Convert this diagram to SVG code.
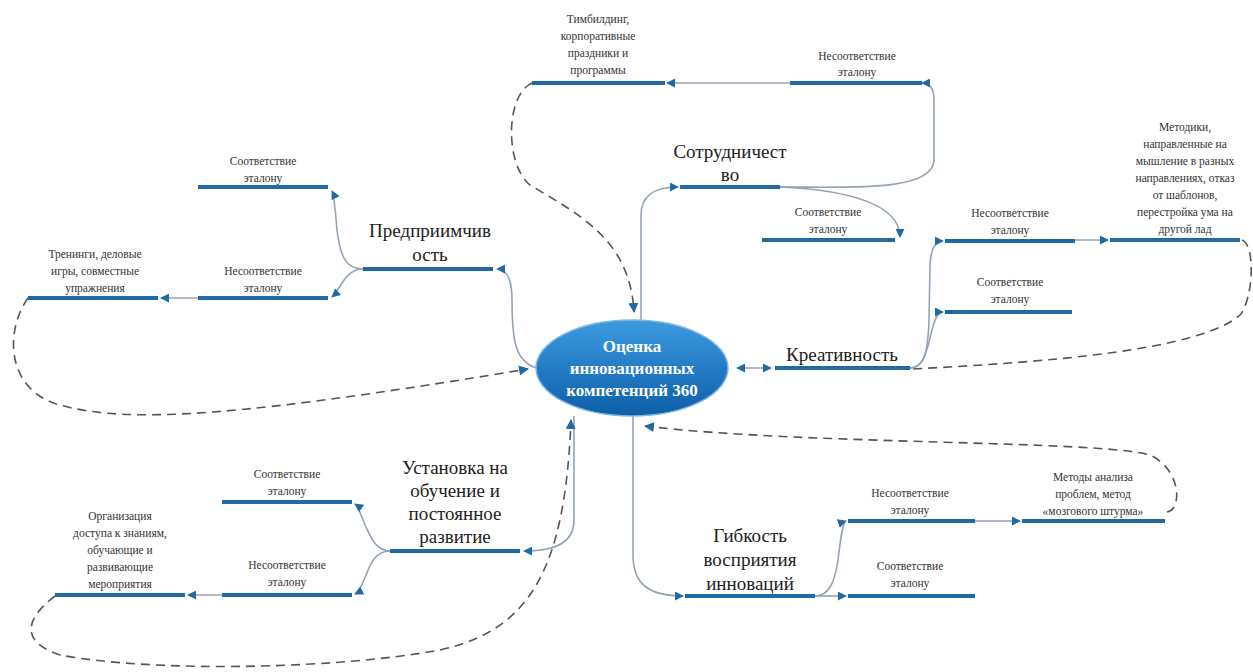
<svg xmlns="http://www.w3.org/2000/svg" width="1253" height="672" viewBox="0 0 1253 672">
<defs>
<linearGradient id="eg" x1="0" y1="0" x2="0" y2="1">
<stop offset="0" stop-color="#3b9be0"/>
<stop offset="1" stop-color="#0d5ea8"/>
</linearGradient>
<marker id="ah" viewBox="0 0 10 10" refX="9" refY="5" markerWidth="9" markerHeight="9" markerUnits="userSpaceOnUse" orient="auto-start-reverse">
<path d="M0,0 L10,5 L0,10 z" fill="#1f6aa5"/>
</marker>
<marker id="ahd" viewBox="0 0 10 10" refX="9" refY="5" markerWidth="10" markerHeight="10" markerUnits="userSpaceOnUse" orient="auto">
<path d="M0,0 L10,5 L0,10 z" fill="#1f6aa5"/>
</marker>
</defs>
<style>
.bar{stroke:#1f6aa5;stroke-width:4;fill:none}
.c{stroke:#93a3b5;stroke-width:1.6;fill:none}
.d{stroke:#555;stroke-width:1.6;fill:none;stroke-dasharray:9 6}
text{font-family:'Liberation Serif','DejaVu Serif',serif;text-anchor:middle}
.s{font-size:11.5px;fill:#333}
.b{font-size:19px;fill:#222}
.e{font-size:17px;font-weight:bold;fill:#fff}
</style>
<rect width="1253" height="672" fill="#fff"/>

<g id="connectors">
<path class="c" d="M641,320 L641,215 C641,195 655,187 678,187" marker-end="url(#ah)"/>
<path class="d" d="M532,83 C505,95 505,165 530,185 C580,215 630,240 634,312" marker-end="url(#ahd)"/>
<path class="c" d="M780,187 C850,187 933,192 934,160 L934,100 C934,88 930,83 922,83" marker-end="url(#ah)"/>
<path class="c" d="M790,83 L667,83" marker-end="url(#ah)"/>
<path class="c" d="M780,187 C850,190 900,205 900,237" marker-end="url(#ah)"/>
<path class="c" d="M537,368 C515,362 512,340 512,300 C512,280 508,269 497,269" marker-end="url(#ah)"/>
<path class="d" d="M28,298 C5,330 5,390 60,405 C130,425 250,415 528,369" marker-end="url(#ahd)"/>
<path class="c" d="M363,269 C345,269 340,255 337,230 C335,205 334,195 332,191" marker-end="url(#ah)"/>
<path class="c" d="M363,269 C345,269 340,290 332,297" marker-end="url(#ah)"/>
<path class="c" d="M198,298 L161,298" marker-end="url(#ah)"/>
<path class="c" d="M737,368 L771,368" marker-start="url(#ah)" marker-end="url(#ah)"/>
<path class="c" d="M910,368 C925,368 928,350 929,320 L930,265 C931,248 935,241 943,241" marker-end="url(#ah)"/>
<path class="c" d="M910,368 C925,368 928,345 932,330 C935,318 938,312 943,312" marker-end="url(#ah)"/>
<path class="c" d="M1075,240 L1108,240" marker-end="url(#ah)"/>
<path class="d" d="M1242,240 C1256,245 1253,300 1240,315 C1200,350 1050,362 912,369"/>
<path class="c" d="M574,416 L574,520 C574,540 560,551 524,551" marker-end="url(#ah)"/>
<path class="d" d="M55,596 C30,615 15,640 60,655 C150,672 330,670 440,650 C530,630 565,570 571,420" marker-end="url(#ahd)"/>
<path class="c" d="M390,551 C375,551 370,535 365,525 C360,512 358,506 355,504" marker-end="url(#ah)"/>
<path class="c" d="M390,551 C375,551 370,565 366,575 C362,585 359,592 355,594" marker-end="url(#ah)"/>
<path class="c" d="M222,595 L188,595" marker-end="url(#ah)"/>
<path class="c" d="M633,416 L633,555 C633,585 650,596 683,596" marker-end="url(#ah)"/>
<path class="d" d="M1167,512 C1182,510 1182,470 1150,455 C1100,440 800,445 645,426" marker-end="url(#ahd)"/>
<path class="c" d="M815,596 C830,596 835,580 838,560 C841,535 843,522 846,521" marker-end="url(#ah)"/>
<path class="c" d="M815,596 L846,596" marker-end="url(#ah)"/>
<path class="c" d="M975,521 L1020,521" marker-end="url(#ah)"/>
</g>

<g id="center">
<ellipse cx="632" cy="368" rx="96" ry="48" fill="url(#eg)" stroke="#7fb8e6" stroke-width="1.5"/>
<text class="e" x="632" y="352">Оценка</text>
<text class="e" x="632" y="374">инновационных</text>
<text class="e" x="632" y="396">компетенций 360</text>
</g>

<g id="sotr">
<line class="bar" x1="680" y1="187" x2="780" y2="187"/>
<text class="b" x="730" y="158">Сотрудничест</text>
<text class="b" x="730" y="181">во</text>
</g>
<g id="sotr-nesoot">
<line class="bar" x1="790" y1="83" x2="922" y2="83"/>
<text class="s" x="857" y="60">Несоответствие</text>
<text class="s" x="857" y="76">эталону</text>
</g>
<g id="timbuild">
<line class="bar" x1="532" y1="83" x2="665" y2="83"/>
<text class="s" x="598" y="23">Тимбилдинг,</text>
<text class="s" x="598" y="40">корпоративные</text>
<text class="s" x="598" y="57">праздники и</text>
<text class="s" x="598" y="74">программы</text>
</g>
<g id="sotr-soot">
<line class="bar" x1="762" y1="240" x2="895" y2="240"/>
<text class="s" x="828" y="216">Соответствие</text>
<text class="s" x="828" y="233">эталону</text>
</g>

<g id="predpr">
<line class="bar" x1="363" y1="269" x2="493" y2="269"/>
<text class="b" x="430" y="237">Предприимчив</text>
<text class="b" x="430" y="261">ость</text>
</g>
<g id="predpr-soot">
<line class="bar" x1="198" y1="187" x2="328" y2="187"/>
<text class="s" x="263" y="165">Соответствие</text>
<text class="s" x="263" y="182">эталону</text>
</g>
<g id="predpr-nesoot">
<line class="bar" x1="198" y1="298" x2="328" y2="298"/>
<text class="s" x="263" y="275">Несоответствие</text>
<text class="s" x="263" y="292">эталону</text>
</g>
<g id="trening">
<line class="bar" x1="28" y1="298" x2="158" y2="298"/>
<text class="s" x="95" y="258">Тренинги, деловые</text>
<text class="s" x="95" y="275">игры, совместные</text>
<text class="s" x="95" y="292">упражнения</text>
</g>

<g id="kreativ">
<line class="bar" x1="775" y1="368" x2="910" y2="368"/>
<text class="b" x="842" y="361">Креативность</text>
</g>
<g id="kreativ-nesoot">
<line class="bar" x1="945" y1="241" x2="1075" y2="241"/>
<text class="s" x="1010" y="217">Несоответствие</text>
<text class="s" x="1010" y="234">эталону</text>
</g>
<g id="kreativ-soot">
<line class="bar" x1="945" y1="312" x2="1072" y2="312"/>
<text class="s" x="1010" y="286">Соответствие</text>
<text class="s" x="1010" y="303">эталону</text>
</g>
<g id="metodiki">
<line class="bar" x1="1110" y1="240" x2="1240" y2="240"/>
<text class="s" x="1185" y="131">Методики,</text>
<text class="s" x="1185" y="148">направленные на</text>
<text class="s" x="1185" y="165">мышление в разных</text>
<text class="s" x="1185" y="182">направлениях, отказ</text>
<text class="s" x="1185" y="199">от шаблонов,</text>
<text class="s" x="1185" y="216">перестройка ума на</text>
<text class="s" x="1185" y="233">другой лад</text>
</g>

<g id="ustanovka">
<line class="bar" x1="390" y1="551" x2="520" y2="551"/>
<text class="b" x="455" y="474">Установка на</text>
<text class="b" x="455" y="497">обучение и</text>
<text class="b" x="455" y="520">постоянное</text>
<text class="b" x="455" y="543">развитие</text>
</g>
<g id="ustanovka-soot">
<line class="bar" x1="222" y1="502" x2="352" y2="502"/>
<text class="s" x="287" y="478">Соответствие</text>
<text class="s" x="287" y="495">эталону</text>
</g>
<g id="ustanovka-nesoot">
<line class="bar" x1="222" y1="595" x2="352" y2="595"/>
<text class="s" x="287" y="569">Несоответствие</text>
<text class="s" x="287" y="586">эталону</text>
</g>
<g id="organiz">
<line class="bar" x1="55" y1="595" x2="185" y2="595"/>
<text class="s" x="120" y="520">Организация</text>
<text class="s" x="120" y="537">доступа к знаниям,</text>
<text class="s" x="120" y="554">обучающие и</text>
<text class="s" x="120" y="571">развивающие</text>
<text class="s" x="120" y="588">мероприятия</text>
</g>

<g id="gibkost">
<line class="bar" x1="685" y1="596" x2="815" y2="596"/>
<text class="b" x="750" y="542">Гибкость</text>
<text class="b" x="750" y="566">восприятия</text>
<text class="b" x="750" y="590">инноваций</text>
</g>
<g id="gibkost-nesoot">
<line class="bar" x1="848" y1="521" x2="975" y2="521"/>
<text class="s" x="910" y="497">Несоответствие</text>
<text class="s" x="910" y="514">эталону</text>
</g>
<g id="gibkost-soot">
<line class="bar" x1="848" y1="596" x2="975" y2="596"/>
<text class="s" x="910" y="570">Соответствие</text>
<text class="s" x="910" y="587">эталону</text>
</g>
<g id="metody">
<line class="bar" x1="1022" y1="521" x2="1165" y2="521"/>
<text class="s" x="1093" y="481">Методы анализа</text>
<text class="s" x="1093" y="498">проблем, метод</text>
<text class="s" x="1093" y="515">«мозгового штурма»</text>
</g>
</svg>
